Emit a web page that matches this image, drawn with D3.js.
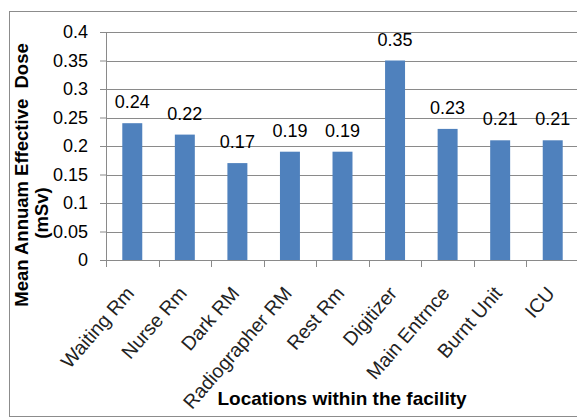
<!DOCTYPE html>
<html>
<head>
<meta charset="utf-8">
<script src="https://cdn.jsdelivr.net/npm/d3@7"></script>
<style>
  body { margin: 0; background: #fff; }
  text { font-family: "Liberation Sans", Arial, sans-serif; }
</style>
</head>
<body>
<div id="chart"></div>
<script>
// data
var locations = ["Waiting Rm", "Nurse Rm", "Dark RM", "Radiographer RM", "Rest Rm",
  "Digitizer", "Main Entrnce", "Burnt Unit", "ICU"];
var doses = [0.24, 0.22, 0.17, 0.19, 0.19, 0.35, 0.23, 0.21, 0.21];
var yTicks = [0, 0.05, 0.1, 0.15, 0.2, 0.25, 0.3, 0.35, 0.4];

var svgWidth = 577;
var svgHeight = 419;

var margin = { top: 32, right: -2, bottom: 159, left: 106 };
var width = svgWidth - margin.left - margin.right;
var height = svgHeight - margin.top - margin.bottom;

var svg = d3.select("#chart")
  .append("svg")
  .attr("width", svgWidth)
  .attr("height", svgHeight);

// outer frame
svg.append("rect")
  .attr("x", 9.5)
  .attr("y", 11.5)
  .attr("width", svgWidth + 10)
  .attr("height", 405)
  .attr("fill", "none")
  .attr("stroke", "#8c8c8c")
  .attr("stroke-width", 1);

var chartGroup = svg.append("g")
  .attr("transform", `translate(${margin.left}, ${margin.top})`);

var xScale = d3.scaleBand()
  .domain(locations)
  .range([0, width])
  .paddingInner(0.62)
  .paddingOuter(0.31);

var yScale = d3.scaleLinear()
  .domain([0, 0.4])
  .range([height, 0]);

// gridlines
chartGroup.append("g")
  .selectAll("line")
  .data(yTicks.slice(1))
  .enter()
  .append("line")
  .attr("x1", 0)
  .attr("x2", width)
  .attr("y1", d => Math.round(yScale(d)) + 0.5)
  .attr("y2", d => Math.round(yScale(d)) + 0.5)
  .attr("stroke", "#8a8a8a")
  .attr("stroke-width", 1);

// y axis
var leftAxis = d3.axisLeft(yScale)
  .tickValues(yTicks)
  .tickSize(6)
  .tickPadding(12)
  .tickFormat(d => d3.format("")(+d.toFixed(2)));

var yAxis = chartGroup.append("g").call(leftAxis);
yAxis.selectAll("path, line").attr("stroke", "#8a8a8a");
yAxis.selectAll("text")
  .attr("fill", "#000")
  .style("font-size", "18px");

// x axis line + ticks at category boundaries
var xAxis = chartGroup.append("g")
  .attr("transform", `translate(0, ${height})`);

xAxis.append("line")
  .attr("x1", 0)
  .attr("x2", width)
  .attr("y1", 0.5)
  .attr("y2", 0.5)
  .attr("stroke", "#8a8a8a");

var step = xScale.step();
xAxis.selectAll("line.tick")
  .data(d3.range(locations.length + 1))
  .enter()
  .append("line")
  .attr("class", "tick")
  .attr("x1", i => Math.round(i * step) + 0.5)
  .attr("x2", i => Math.round(i * step) + 0.5)
  .attr("y1", 0)
  .attr("y2", 7)
  .attr("stroke", "#8a8a8a");

// bars
chartGroup.selectAll("rect.bar")
  .data(doses)
  .enter()
  .append("rect")
  .attr("class", "bar")
  .attr("x", (d, i) => xScale(locations[i]))
  .attr("y", d => yScale(d))
  .attr("width", xScale.bandwidth())
  .attr("height", d => height - yScale(d))
  .attr("fill", "#4f81bd");

// value labels
chartGroup.selectAll("text.val")
  .data(doses)
  .enter()
  .append("text")
  .attr("class", "val")
  .attr("x", (d, i) => xScale(locations[i]) + xScale.bandwidth() / 2)
  .attr("y", d => yScale(d) - 15)
  .attr("text-anchor", "middle")
  .style("font-size", "18px")
  .text(d => d.toFixed(2));

// rotated category labels
chartGroup.selectAll("text.cat")
  .data(locations)
  .enter()
  .append("text")
  .attr("class", "cat")
  .attr("text-anchor", "end")
  .attr("transform", d => `translate(${xScale(d) + xScale.bandwidth() / 2 + 3}, ${height + 34}) rotate(-49)`)
  .style("font-size", "19.5px")
  .attr("fill", "#222")
  .text(d => d);

// axis titles
svg.append("text")
  .attr("transform", "translate(28, 175) rotate(-90)")
  .attr("text-anchor", "middle")
  .style("font-size", "18.5px")
  .style("font-weight", "bold")
  .style("white-space", "pre")
  .text("Mean Annuam Effective  Dose");

svg.append("text")
  .attr("transform", "translate(48, 213) rotate(-90)")
  .attr("text-anchor", "middle")
  .style("font-size", "18.5px")
  .style("font-weight", "bold")
  .text("(mSv)");

svg.append("text")
  .attr("x", 342)
  .attr("y", 405)
  .attr("text-anchor", "middle")
  .style("font-size", "19px")
  .style("font-weight", "bold")
  .text("Locations within the facility");
</script>
</body>
</html>
